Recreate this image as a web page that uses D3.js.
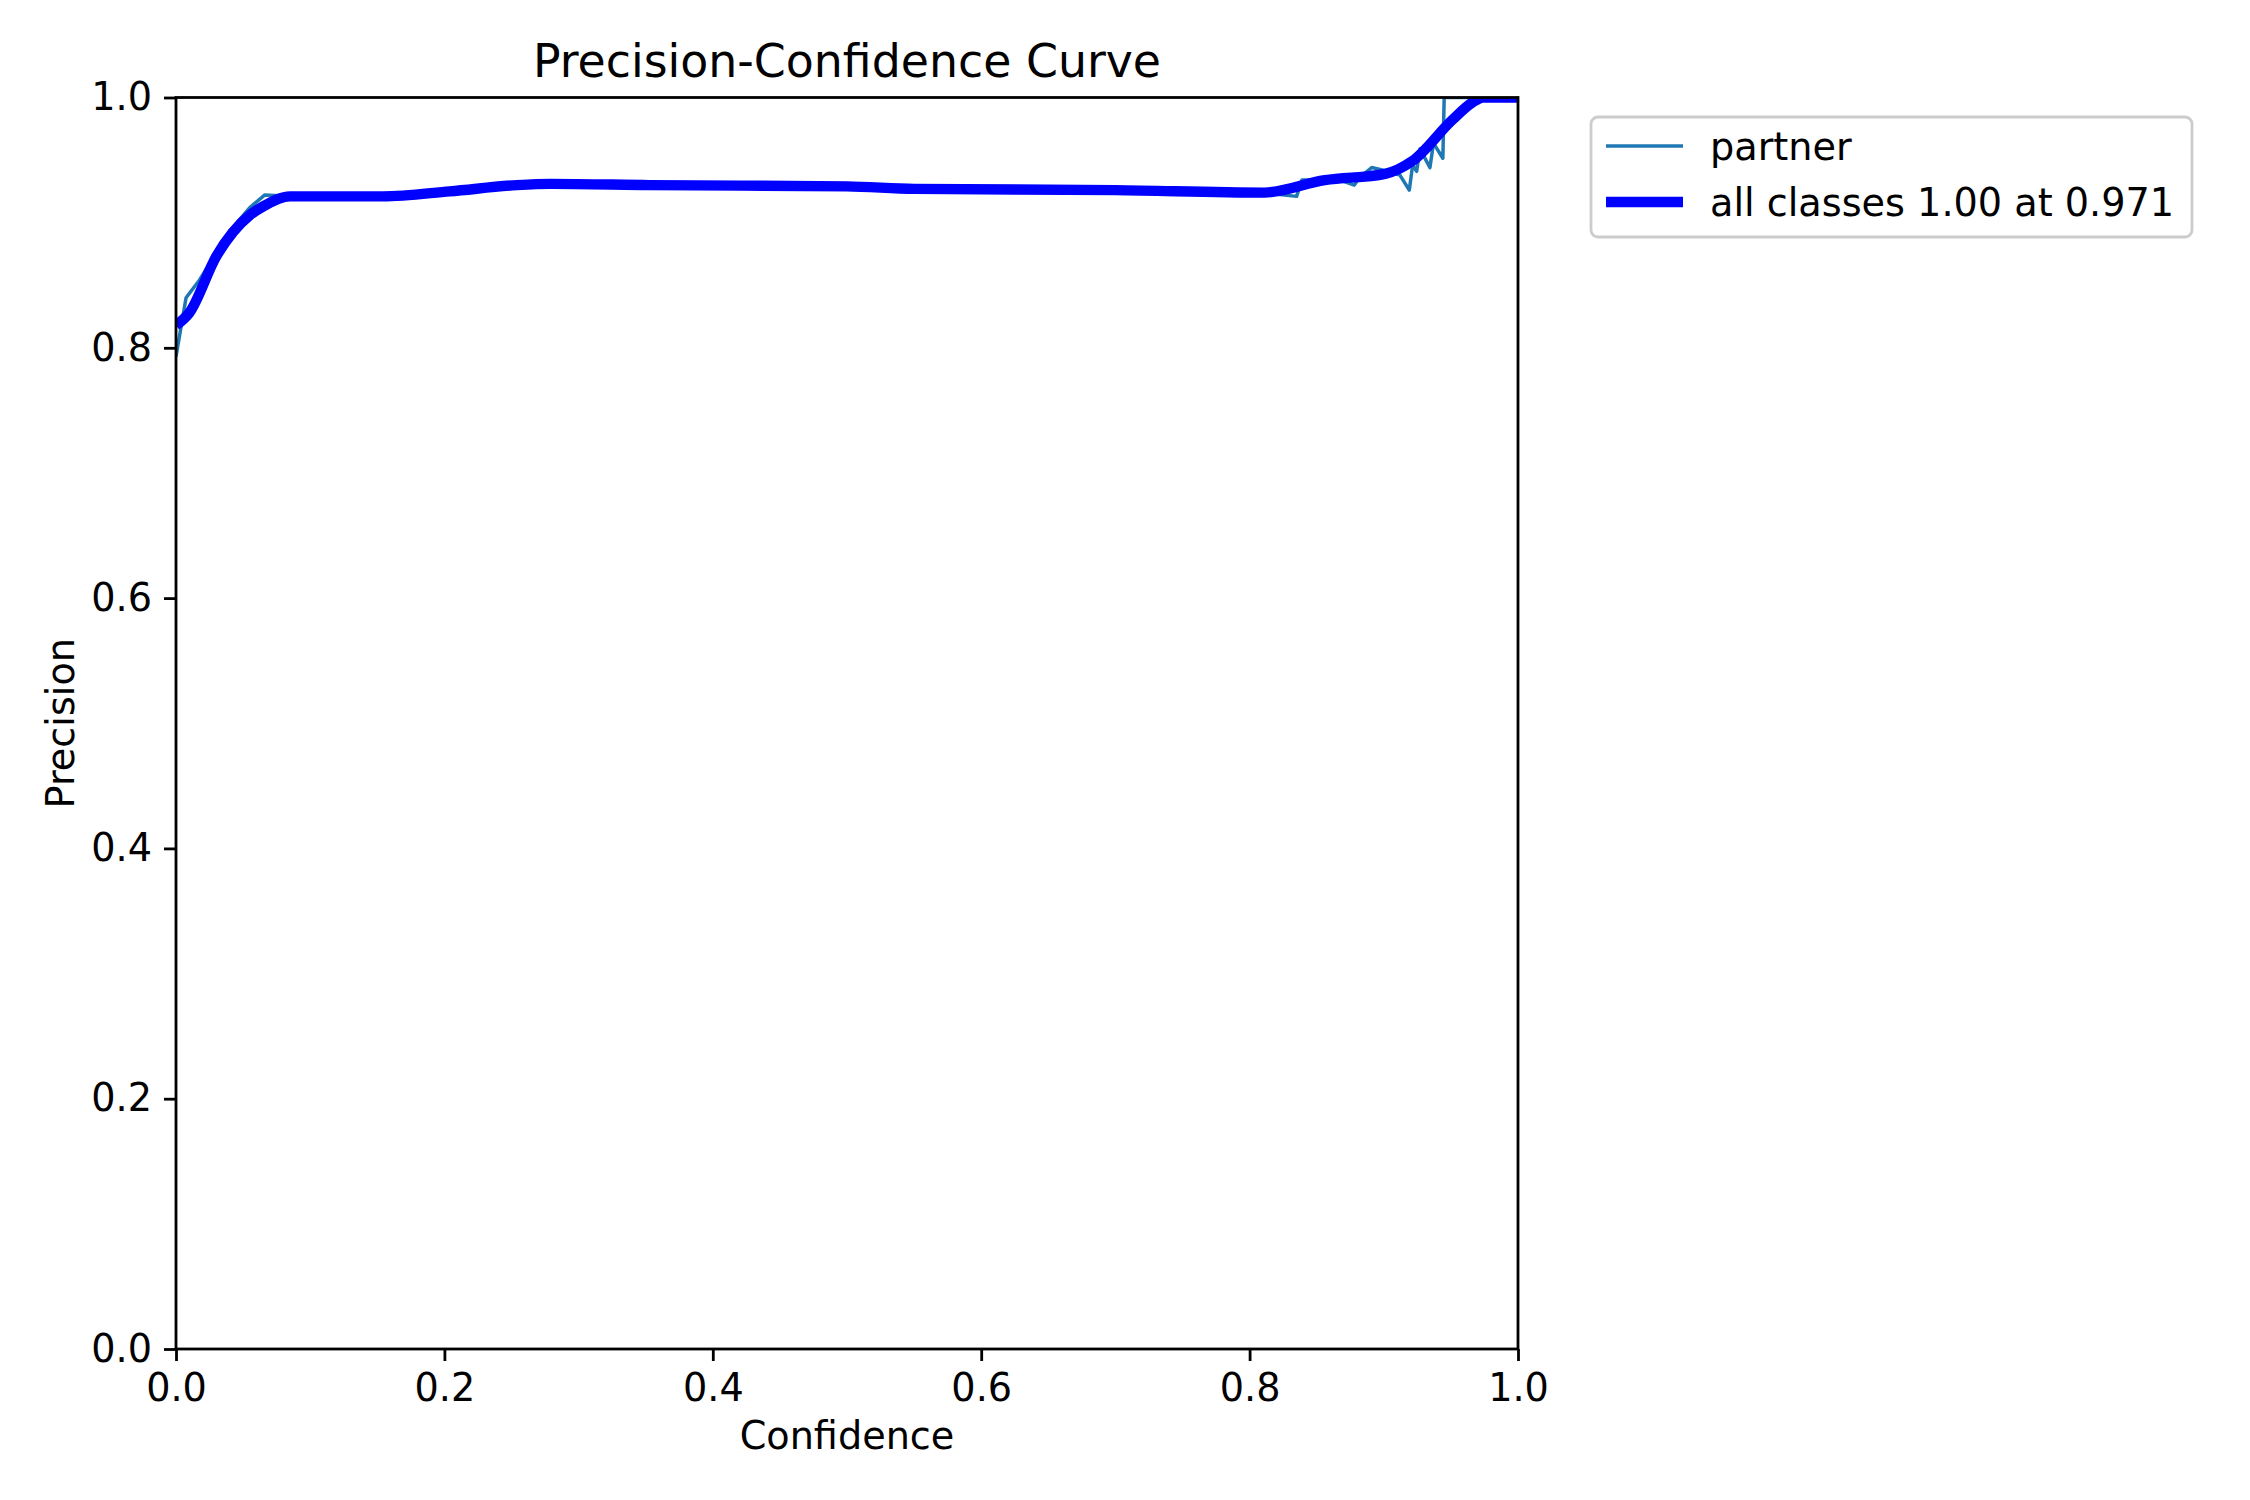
<!DOCTYPE html>
<html>
<head>
<meta charset="utf-8">
<script src="https://cdn.jsdelivr.net/npm/d3@7"></script>
<style>
  body { margin: 0; background: #fff; }
  text { font-family: "DejaVu Sans", sans-serif; fill: #000; }
</style>
</head>
<body>
<div id="chart"></div>
<script>
// ---- data ----
const allConf = [0.000, 0.010, 0.030, 0.055, 0.065, 0.085, 0.154, 0.204, 0.254, 0.279, 0.353,
                 0.500, 0.550, 0.700, 0.811, 0.856, 0.901, 0.921, 0.951, 0.966, 0.974, 1.000];
const allPrec = [0.818, 0.828, 0.873, 0.906, 0.913, 0.921, 0.921, 0.925, 0.930, 0.931, 0.930,
                 0.929, 0.927, 0.926, 0.924, 0.934, 0.939, 0.949, 0.982, 0.996, 1.000, 1.000];

const partnerConf = [0.000, 0.0075, 0.0174, 0.040, 0.055, 0.066, 0.085, 0.154, 0.204, 0.254, 0.279,
                     0.353, 0.500, 0.550, 0.700, 0.810, 0.835, 0.839, 0.852, 0.870, 0.878, 0.882,
                     0.891, 0.8995, 0.912, 0.919, 0.9215, 0.9245, 0.927, 0.9344, 0.937, 0.944, 0.945, 1.000];
const partnerPrec = [0.793, 0.840, 0.854, 0.893, 0.912, 0.922, 0.921, 0.921, 0.925, 0.930, 0.931,
                     0.930, 0.929, 0.927, 0.926, 0.924, 0.921, 0.934, 0.934, 0.933, 0.930, 0.936,
                     0.944, 0.942, 0.938, 0.926, 0.946, 0.941, 0.959, 0.944, 0.9635, 0.9515, 1.000, 1.000];

const xTicks = [0.0, 0.2, 0.4, 0.6, 0.8, 1.0];
const yTicks = [0.0, 0.2, 0.4, 0.6, 0.8, 1.0];
const legendLabels = ["partner", "all classes 1.00 at 0.971"];

// ---- layout ----
const W = 2250, H = 1500;
const plot = {left: 176, right: 1518, top: 97.5, bottom: 1349};
const fs = 38.2;      // label / tick font
const tickLen = 12;

const svg = d3.select("#chart").append("svg")
    .attr("width", W).attr("height", H)
    .attr("viewBox", [0, 0, W, H]);

svg.append("rect").attr("width", W).attr("height", H).attr("fill", "#fff");

const x = d3.scaleLinear().domain([0, 1]).range([plot.left, plot.right]);
const y = d3.scaleLinear().domain([0, 1]).range([plot.bottom, plot.top]);

svg.append("clipPath").attr("id", "clip")
  .append("rect")
    .attr("x", plot.left).attr("y", plot.top)
    .attr("width", plot.right - plot.left).attr("height", plot.bottom - plot.top);

const g = svg.append("g").attr("clip-path", "url(#clip)");

// thin per-class line
g.append("path")
    .datum(partnerConf.map((c, i) => [c, partnerPrec[i]]))
    .attr("d", d3.line().x(d => x(d[0])).y(d => y(d[1])))
    .attr("fill", "none")
    .attr("stroke", "#1f77b4")
    .attr("stroke-width", 3.5)
    .attr("stroke-linejoin", "round");

// thick all classes line
g.append("path")
    .datum(allConf.map((c, i) => [c, allPrec[i]]))
    .attr("d", d3.line().curve(d3.curveMonotoneX).x(d => x(d[0])).y(d => y(d[1])))
    .attr("fill", "none")
    .attr("stroke", "#0000ff")
    .attr("stroke-width", 10.4)
    .attr("stroke-linejoin", "round");

// axes
const xAxis = svg.append("g")
    .attr("transform", `translate(0,${plot.bottom})`)
    .call(d3.axisBottom(x).tickValues(xTicks).tickFormat(d3.format(".1f"))
        .tickSizeInner(tickLen).tickSizeOuter(0).tickPadding(11));
const yAxis = svg.append("g")
    .attr("transform", `translate(${plot.left},0)`)
    .call(d3.axisLeft(y).tickValues(yTicks).tickFormat(d3.format(".1f"))
        .tickSizeInner(tickLen).tickSizeOuter(0).tickPadding(12));

[xAxis, yAxis].forEach(a => {
    a.select(".domain").remove();
    a.selectAll(".tick line").attr("stroke", "#000").attr("stroke-width", 2.8);
    a.selectAll(".tick text")
        .style("font-family", "'DejaVu Sans', sans-serif")
        .style("font-size", fs + "px")
        .attr("fill", "#000");
});
xAxis.selectAll(".tick text").attr("dy", "0.76em");

// frame (spines on top of lines)
svg.append("rect")
    .attr("x", plot.left).attr("y", plot.top)
    .attr("width", plot.right - plot.left).attr("height", plot.bottom - plot.top)
    .attr("fill", "none").attr("stroke", "#000").attr("stroke-width", 2.8);

// title and labels
svg.append("text")
    .attr("x", (plot.left + plot.right) / 2).attr("y", 77)
    .attr("text-anchor", "middle")
    .style("font-size", "45.8px")
    .text("Precision-Confidence Curve");

svg.append("text")
    .attr("x", (plot.left + plot.right) / 2).attr("y", 1449)
    .attr("text-anchor", "middle")
    .style("font-size", fs + "px")
    .text("Confidence");

svg.append("text")
    .attr("transform", `translate(74,${(plot.top + plot.bottom) / 2}) rotate(-90)`)
    .attr("text-anchor", "middle")
    .style("font-size", fs + "px")
    .text("Precision");

// legend
const lg = {x: 1591, y: 117, w: 601, h: 120};
const legend = svg.append("g");
legend.append("rect")
    .attr("x", lg.x).attr("y", lg.y).attr("width", lg.w).attr("height", lg.h)
    .attr("rx", 7).attr("ry", 7)
    .attr("fill", "#fff").attr("fill-opacity", 0.8)
    .attr("stroke", "#cccccc").attr("stroke-width", 2.8);

const rows = [
    {label: legendLabels[0], color: "#1f77b4", width: 3.5, cy: 146},
    {label: legendLabels[1], color: "#0000ff", width: 10.4, cy: 202}
];
rows.forEach(r => {
    legend.append("line")
        .attr("x1", lg.x + 15).attr("x2", lg.x + 15 + 77)
        .attr("y1", r.cy).attr("y2", r.cy)
        .attr("stroke", r.color).attr("stroke-width", r.width);
    legend.append("text")
        .attr("x", lg.x + 119).attr("y", r.cy)
        .attr("dy", "0.36em")
        .style("font-size", fs + "px")
        .text(r.label);
});
</script>
</body>
</html>
